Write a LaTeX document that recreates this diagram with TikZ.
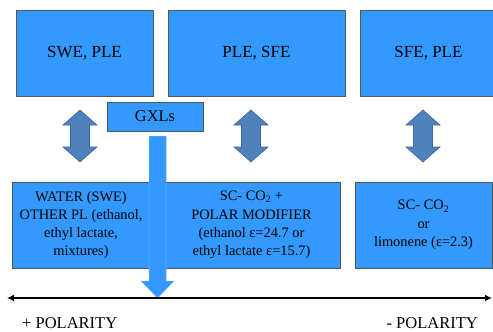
\documentclass[tikz,border=0pt]{standalone}
\usepackage{fontspec}
\setmainfont{Liberation Serif}
\usetikzlibrary{positioning,calc,arrows.meta}
\definecolor{boxblue}{RGB}{51,153,255}
\definecolor{boxline}{RGB}{85,85,85}
\definecolor{steel}{RGB}{79,129,189}
\definecolor{steelline}{RGB}{62,102,152}
\definecolor{droplight}{RGB}{110,180,255}
\tikzset{
  method/.style={draw=boxline, fill=boxblue, inner sep=0pt, minimum height=86, font=\fontsize{17}{20}\selectfont},
  solvent/.style={draw=boxline, fill=boxblue, inner sep=0pt, minimum height=86, align=center, font=\fontsize{14.4}{18.3}\selectfont},
  dblarrow/.style={fill=steel, draw=steelline, line width=0.6pt},
  polarity/.style={inner sep=0pt, font=\fontsize{16.5}{20}\selectfont},
}

\begin{document}
\begin{tikzpicture}[x=1pt,y=-1pt]
    \useasboundingbox (0,0) rectangle (493,332);

    % Top row: extraction techniques
    \node[method, minimum width=137] (swe) at (84.5,53) {SWE, PLE};
    \node[method, minimum width=177] (plesfe) at (256.5,53) {PLE, SFE};
    \node[method, minimum width=137] (sfeple) at (428.5,53) {SFE, PLE};

    \node[draw=boxline, fill=boxblue, inner sep=0pt, minimum width=96, minimum height=29,
          font=\fontsize{16.4}{20}\selectfont] (gxl) at (155,116.5) {GXLs};

    % Double arrows
    \foreach \cx in {80,251,423}
        \draw[dblarrow] (\cx,110) -- (\cx+17,125) -- (\cx+9.5,125) -- (\cx+9.5,147) -- (\cx+17,147)
            -- (\cx,162) -- (\cx-17,147) -- (\cx-9.5,147) -- (\cx-9.5,125) -- (\cx-17,125) -- cycle;

    % Bottom row: solvents
    \node[solvent, minimum width=138] (water) at (81,225)
        {WATER (SWE)\\OTHER PL (ethanol,\\ethyl lactate,\\mixtures)};
    \node[solvent, minimum width=177] (modifier) at (251.5,225)
        {SC- CO\textsubscript{2} +\\POLAR MODIFIER\\(ethanol ε=24.7 or\\ethyl lactate ε=15.7)};
    \node[solvent, minimum width=137] (limonene) at (423.5,225)
        {SC- CO\textsubscript{2}\\or\\limonene (ε=2.3)};

    % GXL arrow down to the axis
    \coordinate (drop) at (157.5,136);
    \coordinate (droptip) at (157.5,298);
    \draw[fill=boxblue, draw=droplight, line width=0.5pt]
        ($(drop)+(-8.5,0)$) -- ($(drop)+(8.5,0)$) -- ($(droptip)+(8.5,-17)$) -- ($(droptip)+(16.5,-17)$)
        -- (droptip) -- ($(droptip)+(-16.5,-17)$) -- ($(droptip)+(-8.5,-17)$) -- cycle;

    % Polarity axis
    \coordinate (axisL) at (7,298);
    \coordinate (axisR) at (492,298);
    \draw[{Latex[length=7,width=7]}-{Latex[length=7,width=7]}, line width=1.8pt] (axisL) -- (axisR);

    \node[polarity, anchor=west] (pluspol) at (22,323.5) {+ POLARITY};
    \node[polarity, anchor=east] (minuspol) at (478,323.5) {- POLARITY};
\end{tikzpicture}
\end{document}
